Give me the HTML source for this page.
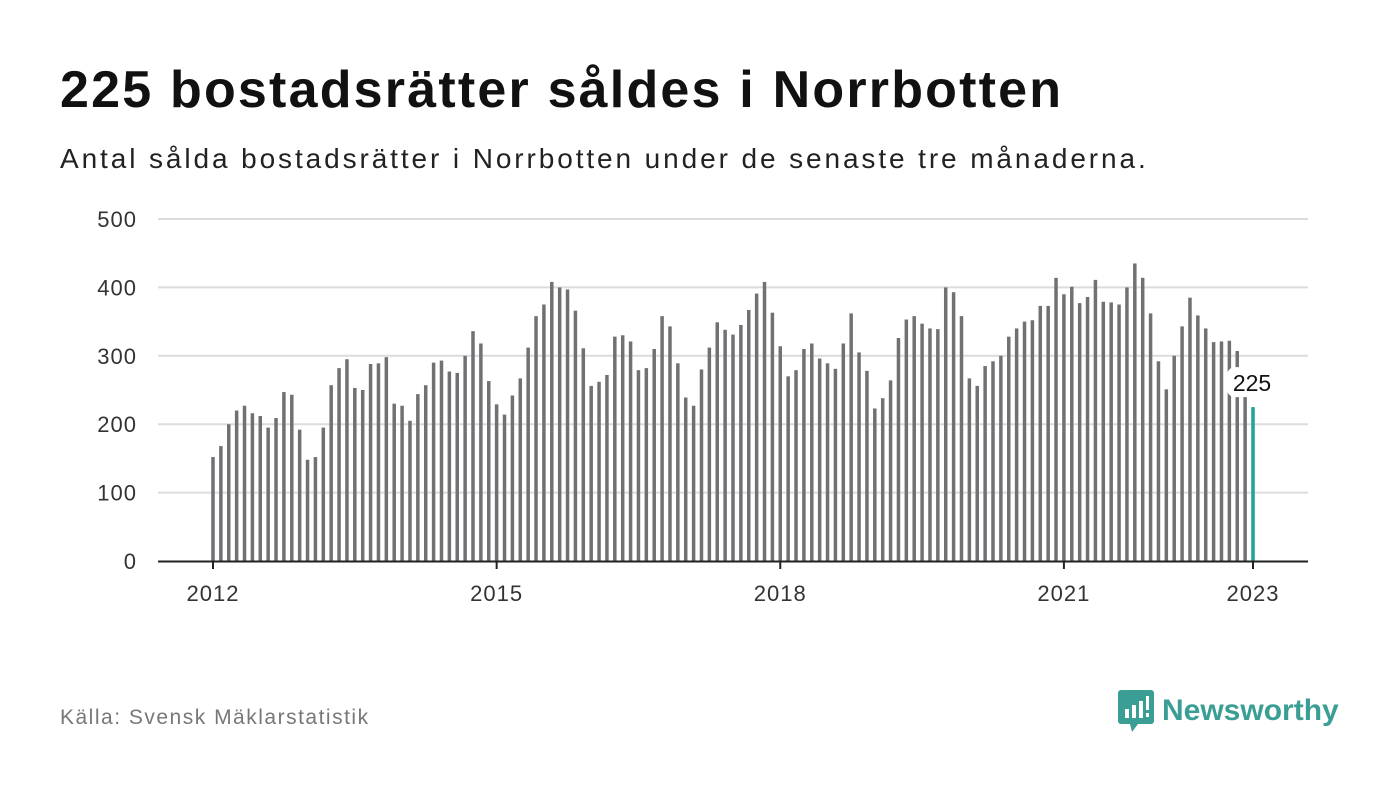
<!DOCTYPE html>
<html><head><meta charset="utf-8"><style>
body{margin:0;width:1400px;height:794px;background:#fff;font-family:"Liberation Sans",sans-serif;overflow:hidden;position:relative}
#title{position:absolute;left:60px;top:60px;font-size:52px;letter-spacing:2.2px;font-weight:bold;color:#111;margin:0;white-space:nowrap}
#sub{position:absolute;left:60px;top:143px;font-size:28px;letter-spacing:2.9px;color:#222;white-space:nowrap}
#src{position:absolute;left:60px;top:706px;font-size:21px;letter-spacing:1.5px;color:#777}
#logo{position:absolute;left:1118px;top:690px;display:flex;align-items:center;gap:8px;color:#3a9e95;font-size:30px;font-weight:bold}
</style></head><body>
<h1 id="title">225 bostadsrätter såldes i Norrbotten</h1>
<div id="sub">Antal sålda bostadsrätter i Norrbotten under de senaste tre månaderna.</div>
<svg id="chart" width="1400" height="794" style="position:absolute;left:0;top:0"></svg>
<div id="src">Källa: Svensk Mäklarstatistik</div>
<div id="logo">
<svg width="36" height="42" viewBox="0 0 36 42"><rect x="0" y="0" width="36" height="34" rx="3" fill="#3a9e95"/><polygon points="12,34 20,34 14,42" fill="#3a9e95"/><rect x="7" y="19" width="4" height="9" fill="#fff"/><rect x="14" y="15" width="4" height="13" fill="#fff"/><rect x="21" y="11" width="4" height="17" fill="#fff"/><rect x="28" y="6" width="3" height="14" fill="#fff"/><rect x="28" y="23" width="3" height="4" fill="#fff"/></svg>
<span>Newsworthy</span></div>
<script>
const values=[152,168,200,220,227,216,212,195,209,247,243,192,
148,152,195,257,282,295,253,250,288,289,298,230,
227,205,244,257,290,293,277,275,300,336,318,263,
229,214,242,267,312,358,375,408,400,397,366,311,
256,262,272,328,330,321,279,282,310,358,343,289,
239,227,280,312,349,338,331,345,367,391,408,363,
314,270,279,310,318,296,289,281,318,362,305,278,
223,238,264,326,353,358,347,340,339,400,393,358,
267,256,285,292,300,328,340,350,352,373,373,414,
390,401,377,386,411,379,378,375,400,435,414,362,
292,251,300,343,385,359,340,320,321,322,307,240,
225];
const yTicks=[0,100,200,300,400,500];
const xTickYears=[2012,2015,2018,2021,2023];
const startYear=2012;
const NS="http://www.w3.org/2000/svg";
const svg=document.getElementById('chart');
const y=v=>561-v*(561-219)/500;
const x=i=>213+i*(1253-213)/132;
function mk(t,a){const e=document.createElementNS(NS,t);for(const k in a)e.setAttribute(k,a[k]);svg.appendChild(e);return e;}
yTicks.forEach(t=>{
 if(t>0){const g=mk('line',{x1:158,x2:1308,y1:y(t),y2:y(t),stroke:'#dcdcdc','stroke-width':2});
 
 }
 const l=mk('text',{x:137,y:y(t)+8,'text-anchor':'end','font-size':22,'letter-spacing':1,fill:'#333','font-family':'Liberation Sans, sans-serif'});
 l.textContent=t;
 
 
});
values.forEach((v,i)=>{
 const last=i===values.length-1;
 const r=mk('rect',{x:x(i)-1.75,y:y(v),width:3.5,height:561-y(v),fill:last?'#1fa39a':'#717174'});
 
 
});
const ax=mk('line',{x1:158,x2:1308,y1:561.5,y2:561.5,stroke:'#222','stroke-width':2});


xTickYears.forEach(yr=>{
 const i=(yr-startYear)*12;
 const t=mk('line',{x1:x(i),x2:x(i),y1:561,y2:569,stroke:'#222','stroke-width':2});
 
 
 const l=mk('text',{x:x(i),y:601,'text-anchor':'middle','font-size':22,'letter-spacing':1,fill:'#333','font-family':'Liberation Sans, sans-serif'});
 l.textContent=yr;
 
 
});
const li=values.length-1;
const bg=mk('rect',{x:x(li)-26,y:y(values[li])-40,width:50,height:30,rx:8,fill:'#fff'});


const vl=mk('text',{x:x(li)-1,y:y(values[li])-16,'text-anchor':'middle','font-size':23,fill:'#111','font-family':'Liberation Sans, sans-serif'});
vl.textContent=values[li];


</script>
</body></html>
